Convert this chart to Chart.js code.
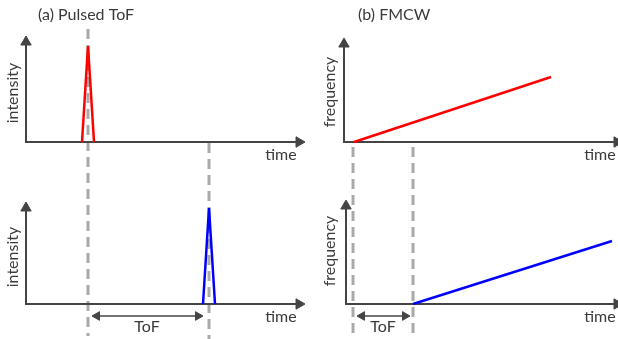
<!DOCTYPE html>
<html>
<head>
<meta charset="utf-8">
<script src="https://cdn.jsdelivr.net/npm/chart.js@4.4.1/dist/chart.umd.min.js"></script>
<style>
  html, body { margin: 0; padding: 0; background: #fff; }
  #wrap { width: 618px; height: 339px; }
</style>
</head>
<body>
<div id="wrap"><canvas id="diagram" width="618" height="339"></canvas></div>
<script>
// diagram units: x to the right, y downwards (same frame as the figure)

// (a) pulsed ToF: emitted and received pulses
const pulseTxX = [82, 88, 94];
const pulseTxY = [142, 46, 142];
const pulseRxX = [203, 209, 215];
const pulseRxY = [304, 208, 304];

// (b) FMCW: emitted and received chirps
const chirpTxX = [354, 551];
const chirpTxY = [142, 77];
const chirpRxX = [413, 612];
const chirpRxY = [304, 241];

// axes (corner-based: [top of y arrow, origin, end of x arrow])
const axesX = [[26, 26, 299], [26, 26, 299], [344, 344, 617], [346, 346, 617]];
const axesY = [[42, 142, 142], [208, 304, 304], [44, 142, 142], [206, 304, 304]];

// gray dashed markers: [x, yTop, yBottom]
const markerX = [88, 209, 353, 413];
const markerTop = [29, 143, 147, 147];
const markerBottom = [336, 339, 336, 336];

// ToF double arrows
const tofX = [[97, 198], [362, 405]];
const tofY = [316, 316];

const labels = [
  { text: '(a) Pulsed ToF', x: 38, y: 15, align: 'left' },
  { text: '(b) FMCW', x: 358, y: 15, align: 'left' },
  { text: 'intensity', x: 13, y: 93, rot: true },
  { text: 'intensity', x: 13, y: 257, rot: true },
  { text: 'frequency', x: 330, y: 92, rot: true },
  { text: 'frequency', x: 330, y: 251, rot: true },
  { text: 'time', x: 281, y: 155 },
  { text: 'time', x: 281, y: 317 },
  { text: 'time', x: 600, y: 155 },
  { text: 'time', x: 600, y: 317 },
  { text: 'ToF', x: 147, y: 327 },
  { text: 'ToF', x: 383, y: 327 }
];

const pts = (xs, ys) => xs.map((x, i) => ({ x: x, y: ys[i] }));

const datasets = [];

// gray markers go underneath everything (higher order = drawn first)
markerX.forEach((x, i) => {
  datasets.push({
    data: [{ x: x, y: markerTop[i] }, { x: x, y: markerBottom[i] }],
    borderColor: '#a9a9a9',
    borderWidth: 3,
    borderDash: [10, 6],
    pointRadius: 0,
    order: 3
  });
});

axesX.forEach((xs, i) => {
  datasets.push({
    data: pts(xs, axesY[i]),
    borderColor: '#444',
    borderWidth: 2,
    pointStyle: 'triangle',
    pointRadius: [6, 0, 6],
    rotation: [0, 0, 90],
    pointBackgroundColor: '#444',
    pointBorderColor: '#444',
    pointBorderWidth: 1,
    order: 2
  });
});

tofX.forEach((xs, i) => {
  datasets.push({
    data: [{ x: xs[0], y: tofY[i] }, { x: xs[1], y: tofY[i] }],
    borderColor: '#444',
    borderWidth: 1.5,
    pointStyle: 'triangle',
    pointRadius: 5,
    rotation: [270, 90],
    pointBackgroundColor: '#444',
    pointBorderColor: '#444',
    pointBorderWidth: 1,
    order: 2
  });
});

datasets.push({ data: pts(pulseTxX, pulseTxY), borderColor: '#ff0000', borderWidth: 2.5, pointRadius: 0, order: 0 });
datasets.push({ data: pts(pulseRxX, pulseRxY), borderColor: '#0000ff', borderWidth: 2.5, pointRadius: 0, order: 0 });
datasets.push({ data: pts(chirpTxX, chirpTxY), borderColor: '#ff0000', borderWidth: 2.5, pointRadius: 0, order: 0 });
datasets.push({ data: pts(chirpRxX, chirpRxY), borderColor: '#0000ff', borderWidth: 2.5, pointRadius: 0, order: 0 });

const textPlugin = {
  id: 'diagramText',
  afterDatasetsDraw(chart) {
    const ctx = chart.ctx;
    const sx = chart.scales.x;
    const sy = chart.scales.y;
    ctx.save();
    ctx.fillStyle = '#3a3a3a';
    ctx.font = '16px Lato, "Open Sans", sans-serif';
    ctx.textBaseline = 'middle';
    labels.forEach(l => {
      const px = sx.getPixelForValue(l.x);
      const py = sy.getPixelForValue(l.y);
      ctx.save();
      ctx.translate(px, py);
      if (l.rot) ctx.rotate(-Math.PI / 2);
      ctx.textAlign = l.align || 'center';
      ctx.fillText(l.text, 0, 0);
      ctx.restore();
    });
    ctx.restore();
  }
};

new Chart(document.getElementById('diagram'), {
  type: 'scatter',
  data: { datasets: datasets.map(d => Object.assign({ showLine: true, fill: false, tension: 0 }, d)) },
  options: {
    responsive: false,
    animation: false,
    layout: { padding: 0, autoPadding: false },
    plugins: { legend: { display: false }, tooltip: { enabled: false } },
    scales: {
      x: { type: 'linear', min: 0, max: 618, display: false },
      y: { type: 'linear', min: 0, max: 339, reverse: true, display: false }
    }
  },
  plugins: [textPlugin]
});
</script>
</body>
</html>
